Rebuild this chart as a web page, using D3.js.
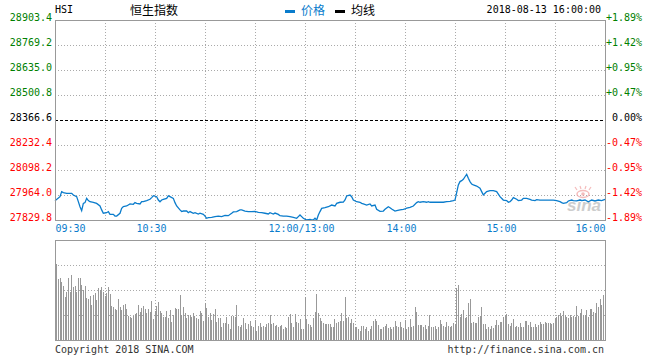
<!DOCTYPE html>
<html>
<head>
<meta charset="utf-8">
<title>恒生指数</title>
<script src="https://cdn.jsdelivr.net/npm/d3@7"></script>
<style>
body{margin:0;background:#fff;}
svg{display:block;}
</style>
</head>
<body>
<svg width="660" height="360"></svg>
<script>
/* 数据 */
var prevClose = 28366.6;
var priceTicks = [28903.4, 28769.2, 28635.0, 28500.8, 28366.6, 28232.4, 28098.2, 27964.0, 27829.8];
var pctLabels = ["+1.89%", "+1.42%", "+0.95%", "+0.47%", "0.00%", "-0.47%", "-0.95%", "-1.42%", "-1.89%"];
var timeMinutes = [0, 60, 150, 210, 270, 330];
var timeLabels = ["09:30", "10:30", "12:00/13:00", "14:00", "15:00", "16:00"];
var gridMinutes = [30, 60, 90, 120, 150, 180, 210, 240, 270, 300];

// minute index (0 = 09:30, 150 = 12:00/13:00, 330 = 16:00)
var priceMinutes = [0,3,4,5,7,10,11,13,14,15,
  16,17,18,19,20,21,23,25,27,28,
  29,31,32,33,35,36,37,39,40,41,
  43,45,47,48,49,51,52,53,55,57,
  58,59,61,62,63,64,65,67,68,69,
  71,72,73,75,76,77,79,80,81,83,
  84,86,87,89,90,91,92,94,96,98,
  100,102,104,106,107,109,111,112,114,116,
  118,120,122,124,126,128,129,131,132,134,
  135,137,139,141,143,145,146,147,148,149,
  151,153,154,155,156,157,158,159,160,162,
  164,166,168,169,171,173,174,175,177,178,
  179,181,183,184,185,187,189,190,192,193,
  195,197,198,200,201,202,204,205,207,209,
  210,211,213,215,217,218,219,221,223,224,
  225,229,233,235,237,239,240,241,242,243,
  244,245,246,247,248,249,250,251,253,255,
  256,257,258,259,261,263,265,266,267,269,
  271,272,273,274,275,277,278,280,281,283,
  285,286,288,289,291,295,299,301,303,304,
  305,307,308,310,311,313,315,316,318,320,
  322,324,326,328,330];
var priceValues = [27933.7,27955.1,27982.0,27976.6,27973.0,27973.0,27964.0,27955.1,27928.3,27901.4,
  27880,27919,27923,27946,27934,27928,27925,27919,27905,27884,
  27866,27869,27875,27860,27860,27851,27851,27866,27893,27902,
  27905,27916,27914,27923,27919,27916,27928,27928,27934,27941,
  27950,27960,27955,27937,27928,27937,27941,27946,27959,27955,
  27946,27923,27905,27884,27875,27878,27878,27869,27875,27866,
  27869,27862,27866,27860,27851,27839,27842,27844,27848,27851,
  27848,27855,27853,27866,27873,27875,27884,27884,27878,27875,
  27875,27876,27871,27869,27866,27862,27869,27862,27867,27860,
  27853,27851,27851,27848,27844,27839,27848,27857,27848,27839,
  27830,27833,27830,27830,27839,27830,27857,27875,27892,27896,
  27901,27910,27905,27919,27925,27926,27937,27959,27964,27955,
  27937,27928,27925,27919,27916,27910,27916,27905,27910,27887,
  27876,27878,27887,27901,27896,27889,27878,27880,27884,27887,
  27889,27893,27898,27905,27923,27928,27925,27928,27925,27928,
  27925,27925,27925,27928,27930,27934,27937,27977,28018,28036,
  28041,28048,28062,28075,28054,28036,28023,28018,28012,28000,
  27982,27964,27973,27982,27987,27987,27982,27969,27955,27937,
  27934,27925,27928,27937,27950,27941,27934,27937,27946,27946,
  27941,27937,27934,27939,27937,27937,27937,27934,27928,27923,
  27919,27923,27932,27937,27934,27932,27937,27934,27937,27928,
  27937,27932,27937,27934,27941];

// 成交量 (相对高度), one bar per minute from 09:31
var volumes = [76,61,62,58,54,43,48,62,48,65,
  53,54,48,62,62,55,50,54,42,41,
  44,35,45,47,40,52,50,53,48,44,
  47,53,46,34,33,31,30,41,33,30,
  35,36,31,24,23,22,24,26,27,35,
  28,32,34,31,27,31,28,39,21,29,
  34,38,29,27,23,23,29,22,30,18,
  25,32,31,31,45,25,33,27,22,25,
  25,23,27,24,22,21,29,27,19,37,
  32,23,27,20,26,31,18,22,22,13,
  17,17,23,16,11,24,24,23,35,14,
  13,15,22,17,11,16,19,14,13,20,
  9,14,17,13,14,13,16,17,25,16,
  17,14,15,13,14,15,11,13,12,23,
  26,17,13,26,18,17,21,11,11,43,
  21,16,15,13,22,28,46,27,22,19,
  17,16,16,16,
  16,13,13,21,17,18,19,27,19,43,
  22,23,17,21,17,13,13,11,9,14,
  14,11,13,9,11,14,19,21,19,15,
  11,11,13,14,16,12,13,11,13,19,
  14,13,18,13,12,20,11,13,21,13,
  14,33,28,15,15,15,13,15,11,14,
  25,13,13,14,11,13,20,16,14,13,
  18,14,13,14,17,16,52,55,23,26,
  30,22,23,37,41,17,18,17,17,23,
  24,33,16,16,11,13,11,14,12,15,
  20,15,18,18,23,25,26,16,14,17,
  21,13,14,13,17,13,13,19,19,15,
  18,13,13,16,13,15,18,16,16,18,
  17,17,17,16,17,22,23,25,27,24,
  29,25,23,22,25,23,24,23,34,24,
  27,31,25,25,30,23,31,31,28,27,
  37,33,41,35,45,63];

/* 布局 */
var svg = d3.select("svg");
var mono = "'DejaVu Sans Mono', monospace";
var cjk = "'Noto Sans CJK SC', sans-serif";
var blue = "#0a7ccc";
var gridColor = "#aaa";
var borderColor = "#999";

svg.append("rect").attr("width", 660).attr("height", 360).attr("fill", "#fff");

var x = d3.scaleLinear().domain([0, 330]).range([55, 605]);
var y = d3.scaleLinear().domain([27829.8, 28903.4]).range([220, 20]);
var yv = d3.scaleLinear().domain([0, 100]).range([340, 240]);

function crisp(v) { return Math.round(v) + 0.5; }

/* 网格 */
var grid = svg.append("g");
grid.selectAll(".hg").data(priceTicks.slice(1, -1)).enter().append("line")
  .attr("x1", 55).attr("x2", 605)
  .attr("y1", function(d) { return crisp(y(d)); })
  .attr("y2", function(d) { return crisp(y(d)); })
  .attr("stroke", function(d) { return d === prevClose ? "#000" : gridColor; })
  .attr("stroke-dasharray", function(d) { return d === prevClose ? "3,2" : "1,2"; });

grid.selectAll(".vg").data(gridMinutes).enter().append("line")
  .attr("x1", function(d) { return crisp(x(d)); })
  .attr("x2", function(d) { return crisp(x(d)); })
  .attr("y1", 20).attr("y2", 220)
  .attr("stroke", gridColor).attr("stroke-dasharray", "1,2");

grid.selectAll(".vhg").data([25, 50, 75]).enter().append("line")
  .attr("x1", 55).attr("x2", 605)
  .attr("y1", function(d) { return crisp(yv(d)); })
  .attr("y2", function(d) { return crisp(yv(d)); })
  .attr("stroke", gridColor).attr("stroke-dasharray", "1,2");

grid.selectAll(".vvg").data(gridMinutes).enter().append("line")
  .attr("x1", function(d) { return crisp(x(d)); })
  .attr("x2", function(d) { return crisp(x(d)); })
  .attr("y1", 240).attr("y2", 340)
  .attr("stroke", gridColor).attr("stroke-dasharray", "1,2");

/* 成交量 */
svg.append("g").selectAll("rect").data(volumes).enter().append("rect")
  .attr("x", function(d, i) { return Math.floor(x(i + 1)); })
  .attr("width", 1)
  .attr("y", function(d) { return yv(d); })
  .attr("height", function(d) { return 340 - yv(d); })
  .attr("fill", "#999");

/* 水印 */
var wm = svg.append("g").attr("opacity", 0.75);
wm.append("ellipse").attr("cx", 583).attr("cy", 194).attr("rx", 6).attr("ry", 3.5)
  .attr("fill", "none").attr("stroke", "#f2a5a5").attr("stroke-width", 1.5);
wm.append("circle").attr("cx", 583).attr("cy", 194).attr("r", 1.8).attr("fill", "#f2a5a5");
wm.append("path").attr("d", "M577,190 L575,187 M581,189 L580,186 M585,189 L586,186 M589,190 L591,187")
  .attr("stroke", "#f2a5a5").attr("stroke-width", 1.2);
wm.append("text").attr("x", 567).attr("y", 211)
  .attr("font-family", "'Liberation Sans', sans-serif").attr("font-size", 17)
  .attr("font-weight", "bold").attr("font-style", "italic")
  .attr("fill", "#bdbdbd").text("sina");

/* 价格线 */
var line = d3.line()
  .x(function(d) { return x(d[0]); })
  .y(function(d) { return y(d[1]); });

svg.append("path")
  .datum(d3.zip(priceMinutes, priceValues))
  .attr("d", line)
  .attr("fill", "none")
  .attr("stroke", blue)
  .attr("stroke-width", 1.3);

/* 边框 */
svg.append("rect").attr("x", 55.5).attr("y", 20.5).attr("width", 550).attr("height", 200)
  .attr("fill", "none").attr("stroke", borderColor);
svg.append("rect").attr("x", 55.5).attr("y", 240.5).attr("width", 550).attr("height", 100)
  .attr("fill", "none").attr("stroke", borderColor);

/* 坐标轴 */
function tickColor(d) {
  return d > prevClose ? "#008000" : (d < prevClose ? "#f00" : "#000");
}

var leftAxis = svg.append("g").attr("transform", "translate(52,0)")
  .call(d3.axisLeft(y).tickValues(priceTicks).tickSize(0).tickPadding(0)
    .tickFormat(d3.format(".1f")));
leftAxis.select(".domain").remove();
leftAxis.attr("font-family", mono).attr("font-size", 10);
leftAxis.selectAll("text").attr("dy", "0.05em").attr("fill", tickColor);

var rightAxis = svg.append("g").attr("transform", "translate(605,0)")
  .call(d3.axisRight(y).tickValues(priceTicks).tickSize(0).tickPadding(0)
    .tickFormat(function(d, i) { return pctLabels[i]; }));
rightAxis.select(".domain").remove();
rightAxis.attr("font-family", mono).attr("font-size", 10);
rightAxis.selectAll("text").attr("dy", "0.05em").attr("x", 37)
  .attr("text-anchor", "end").attr("fill", tickColor);

var bottomAxis = svg.append("g").attr("transform", "translate(0,220)")
  .call(d3.axisBottom(x).tickValues(timeMinutes).tickSize(0).tickPadding(0)
    .tickFormat(function(d, i) { return timeLabels[i]; }));
bottomAxis.select(".domain").remove();
bottomAxis.attr("font-family", mono).attr("font-size", 10);
bottomAxis.selectAll("text")
  .attr("y", 12).attr("dy", 0).attr("fill", blue)
  .attr("text-anchor", function(d, i) { return i === 0 ? "start" : (i === timeMinutes.length - 1 ? "end" : "middle"); })
  .attr("dx", function(d, i) { return (i === 0 || i === timeMinutes.length - 1) ? 0 : -4; });

/* 标题与图例 */
svg.append("text").attr("x", 55).attr("y", 13).attr("font-family", mono).attr("font-size", 10)
  .attr("fill", "#000").text("HSI");
svg.append("text").attr("x", 130).attr("y", 15).attr("font-family", cjk).attr("font-size", 12)
  .attr("fill", "#000").text("恒生指数");
svg.append("rect").attr("x", 285).attr("y", 10).attr("width", 10).attr("height", 3).attr("fill", blue);
svg.append("text").attr("x", 301).attr("y", 15).attr("font-family", cjk).attr("font-size", 12)
  .attr("fill", blue).text("价格");
svg.append("rect").attr("x", 335).attr("y", 10).attr("width", 10).attr("height", 3).attr("fill", "#000");
svg.append("text").attr("x", 351).attr("y", 15).attr("font-family", cjk).attr("font-size", 12)
  .attr("fill", "#000").text("均线");
svg.append("text").attr("x", 601).attr("y", 13).attr("text-anchor", "end")
  .attr("font-family", mono).attr("font-size", 10).attr("fill", "#000").text("2018-08-13 16:00:00");

/* 版权 */
svg.append("text").attr("x", 55).attr("y", 353).attr("font-family", mono).attr("font-size", 10)
  .attr("fill", "#333").text("Copyright 2018 SINA.COM");
svg.append("text").attr("x", 604).attr("y", 353).attr("text-anchor", "end")
  .attr("font-family", mono).attr("font-size", 10).attr("fill", "#333").text("http://finance.sina.com.cn");
</script>
</body>
</html>
